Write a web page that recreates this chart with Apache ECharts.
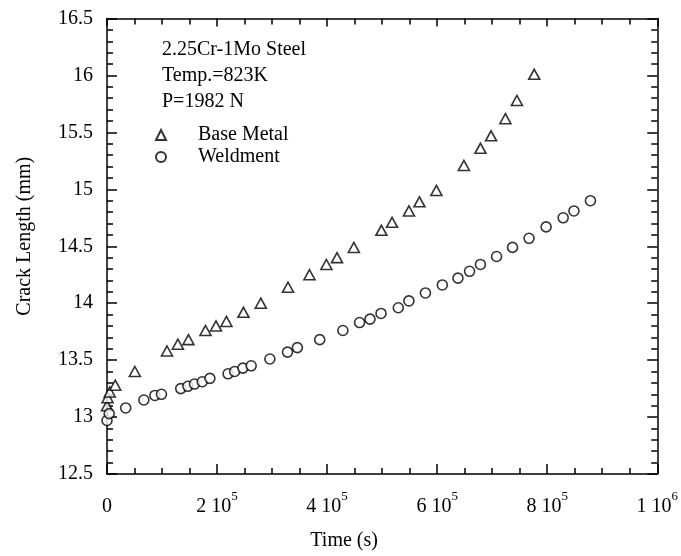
<!DOCTYPE html>
<html>
<head>
<meta charset="utf-8">
<script src="https://cdn.jsdelivr.net/npm/echarts@6/dist/echarts.min.js"></script>
<style>
  html, body { margin: 0; padding: 0; background: #fff; }
  #chart { width: 681px; height: 556px; }
</style>
</head>
<body>
<div id="chart"></div>
<script>
// base metal (triangles)
var baseTime = [0, 1000, 5000, 15000, 50600, 109000, 128800, 148000, 179000, 198000, 217000, 248000, 279500,
    329000, 368000, 398700, 418000, 448600, 498700, 518000, 548700, 567800, 598600, 648600, 678700, 698000,
    724000, 745000, 776400];
var baseCrack = [13.10, 13.17, 13.22, 13.28, 13.40, 13.58, 13.64, 13.68, 13.76, 13.80, 13.84, 13.92, 14.00,
    14.14, 14.25, 14.34, 14.40, 14.49, 14.64, 14.71, 14.81, 14.89, 14.99, 15.21, 15.36, 15.47,
    15.62, 15.78, 16.01];

// weldment (circles)
var weldTime = [0, 4000, 34000, 67000, 87000, 99000, 134000, 147000, 159000, 173000, 187000, 220000, 232000,
    247000, 262000, 296000, 328000, 346000, 386600, 428700, 459000, 478000, 498000, 529400, 548700, 578700,
    609400, 637800, 658900, 678700, 708000, 737000, 767000, 798000, 829000, 848600, 878600];
var weldCrack = [12.97, 13.03, 13.08, 13.15, 13.19, 13.20, 13.25, 13.27, 13.29, 13.31, 13.34, 13.38, 13.40,
    13.43, 13.45, 13.51, 13.57, 13.61, 13.68, 13.76, 13.83, 13.86, 13.91, 13.96, 14.02, 14.09,
    14.16, 14.22, 14.28, 14.34, 14.41, 14.49, 14.57, 14.67, 14.75, 14.81, 14.90];

var seriesNames = ['Base Metal', 'Weldment'];
var noteLines = ['2.25Cr-1Mo Steel', 'Temp.=823K', 'P=1982 N'];

function zip(xs, ys) {
    return xs.map(function (x, i) { return [x, ys[i]]; });
}

// "2 10^5" style labels
function sciLabel(v) {
    if (v === 0) return '{base|0}';
    var e = Math.floor(Math.log10(v) + 1e-9);
    var m = Math.round(v / Math.pow(10, e));
    return '{base|' + m + ' 10}{sup|' + e + '}';
}

var font = 'Liberation Serif';
var black = '#000';
var fs = 20;

var chart = echarts.init(document.getElementById('chart'));

var axisLine = { show: true, onZero: false, lineStyle: { color: black, width: 1.5 } };

var option = {
    animation: false,
    textStyle: { fontFamily: font, color: black },
    title: {
        text: noteLines.join('\n'),
        left: 157,
        top: 32,
        textStyle: { fontFamily: font, fontSize: fs, fontWeight: 'normal', color: black, lineHeight: 26 }
    },
    legend: {
        orient: 'vertical',
        left: 150,
        top: 120,
        itemWidth: 10,
        itemHeight: 10,
        itemGap: 2,
        data: seriesNames,
        textStyle: { fontFamily: font, fontSize: fs, color: black, padding: [0, 0, 0, 27] }
    },
    grid: { left: 107, right: 21, top: 18.5, bottom: 79 },
    xAxis: [{
        type: 'value',
        min: 0,
        max: 1000000,
        interval: 200000,
        name: 'Time (s)',
        nameLocation: 'middle',
        nameGap: 57,
        nameTextStyle: { fontFamily: font, fontSize: fs, color: black, padding: [0, 76, 0, 0] },
        axisLine: axisLine,
        axisTick: { inside: true, length: 10, lineStyle: { color: black, width: 1.5 } },
        minorTick: { show: true, splitNumber: 4, length: 6, lineStyle: { color: black, width: 1.5 } },
        splitLine: { show: false },
        axisLabel: {
            margin: 16,
            fontFamily: font,
            fontSize: fs,
            color: black,
            formatter: sciLabel,
            rich: {
                base: { fontFamily: font, fontSize: fs, lineHeight: 27, verticalAlign: 'bottom' },
                sup: { fontFamily: font, fontSize: 13, lineHeight: 13, verticalAlign: 'top' }
            }
        }
    }, {
        type: 'value',
        position: 'top',
        min: 0,
        max: 1000000,
        interval: 200000,
        axisLine: axisLine,
        axisTick: { inside: true, length: 8, lineStyle: { color: black, width: 1.5 } },
        minorTick: { show: true, splitNumber: 4, length: 6, lineStyle: { color: black, width: 1.5 } },
        splitLine: { show: false },
        axisLabel: { show: false }
    }],
    yAxis: [{
        type: 'value',
        min: 12.5,
        max: 16.5,
        interval: 0.5,
        name: 'Crack Length (mm)',
        nameLocation: 'middle',
        nameGap: 72,
        nameTextStyle: { fontFamily: font, fontSize: fs, color: black, padding: [0, 0, 0, 20] },
        axisLine: axisLine,
        axisTick: { inside: true, length: 10, lineStyle: { color: black, width: 1.5 } },
        minorTick: { show: true, splitNumber: 5, length: 6, lineStyle: { color: black, width: 1.5 } },
        splitLine: { show: false },
        axisLabel: { margin: 14, fontFamily: font, fontSize: fs, color: black }
    }, {
        type: 'value',
        position: 'right',
        min: 12.5,
        max: 16.5,
        interval: 0.5,
        axisLine: axisLine,
        axisTick: { inside: true, length: 10, lineStyle: { color: black, width: 1.5 } },
        minorTick: { show: true, splitNumber: 5, length: 6, lineStyle: { color: black, width: 1.5 } },
        splitLine: { show: false },
        axisLabel: { show: false }
    }],
    series: [
        {
            name: seriesNames[0],
            type: 'scatter',
            symbol: 'triangle',
            symbolSize: [11, 10],
            data: zip(baseTime, baseCrack),
            itemStyle: { color: '#fff', borderColor: black, borderWidth: 1.6 }
        },
        {
            name: seriesNames[1],
            type: 'scatter',
            symbol: 'circle',
            symbolSize: 10,
            data: zip(weldTime, weldCrack),
            itemStyle: { color: '#fff', borderColor: black, borderWidth: 1.6 }
        }
    ]
};

chart.setOption(option);
</script>
</body>
</html>
